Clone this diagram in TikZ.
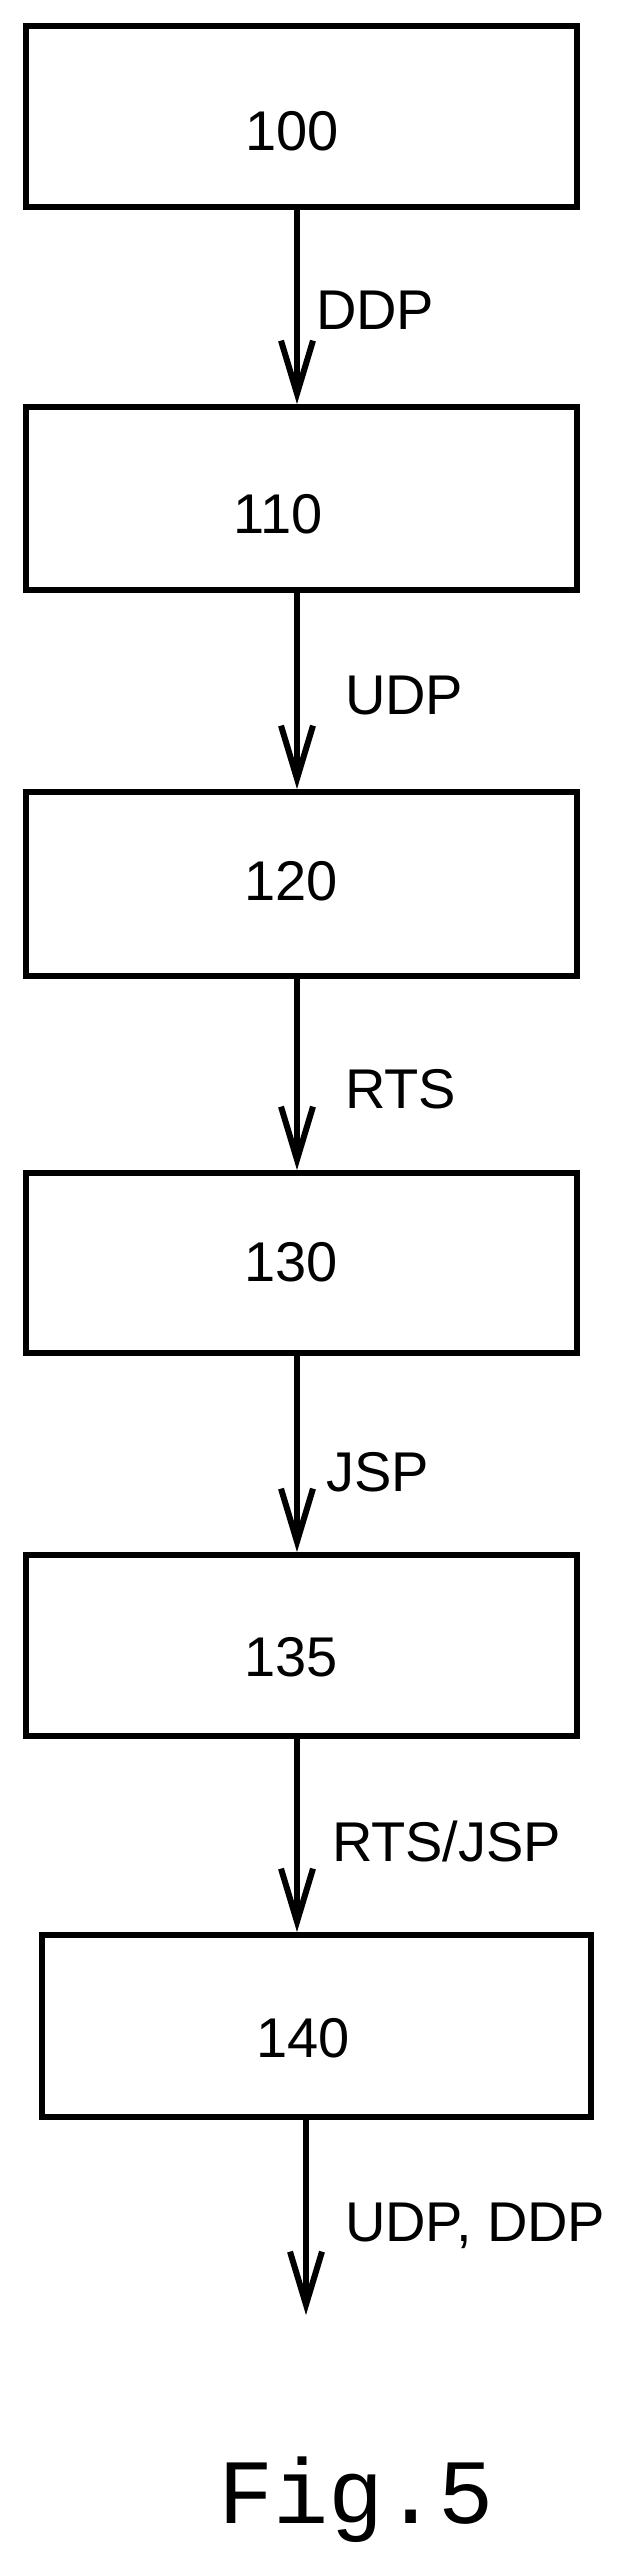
\documentclass[tikz,border=0pt]{standalone}
\usepackage{fontspec}
\setmainfont{Liberation Sans}
\newfontfamily\figfont{Liberation Mono}
\usetikzlibrary{arrows.meta}

\begin{document}
\begin{tikzpicture}[x=1pt, y=-1pt, line width=6pt,
		box_style/.style={draw=black, line join=miter, inner sep=0pt, anchor=north west},
		text_style/.style={font=\fontsize{56}{64}\selectfont, inner sep=0pt, anchor=base},
		label_style/.style={font=\fontsize{56}{64}\selectfont, inner sep=0pt, anchor=base west},
		edge_style/.style={draw=black, -{Straight Barb[length=53pt, width=32pt, line width=6pt]}}]

		\useasboundingbox (0,0) rectangle (626,2561);

		\node[box_style, minimum width=551pt, minimum height=181pt] (b100) at (23,23) {};
		\node[box_style, minimum width=551pt, minimum height=183pt] (b110) at (23,404) {};
		\node[box_style, minimum width=551pt, minimum height=184pt] (b120) at (23,789) {};
		\node[box_style, minimum width=551pt, minimum height=180pt] (b130) at (23,1170) {};
		\node[box_style, minimum width=551pt, minimum height=181pt] (b135) at (23,1552) {};
		\node[box_style, minimum width=549pt, minimum height=182pt] (b140) at (39,1932) {};

		\node[text_style] (t100) at (292,150) {100};
		\node[text_style] (t110) at (278,533) {110};
		\node[text_style] (t120) at (291,900) {120};
		\node[text_style] (t130) at (291,1281) {130};
		\node[text_style] (t135) at (291,1676) {135};
		\node[text_style] (t140) at (303,2057) {140};

		\coordinate (end) at (306,2315);

		\draw[edge_style] (b100.south -| 297,0) -- (b110.north -| 297,0);
		\draw[edge_style] (b110.south -| 297,0) -- (b120.north -| 297,0);
		\draw[edge_style] (b120.south -| 297,0) -- (b130.north -| 297,0);
		\draw[edge_style] (b130.south -| 297,0) -- (b135.north -| 297,0);
		\draw[edge_style] (b135.south -| 297,0) -- (b140.north -| 297,0);
		\draw[edge_style] (b140.south -| end) -- (end);

		\node[label_style] (l1) at (313,329) {DDP};
		\node[label_style] (l2) at (342,714) {UDP};
		\node[label_style] (l3) at (342,1108) {RTS};
		\node[label_style] (l4) at (323,1491) {JSP};
		\node[label_style] (l5) at (329,1861) {RTS/JSP};
		\node[label_style] (l6) at (342,2241) {UDP, DDP};

		\node[inner sep=0pt, anchor=base west, font=\figfont\fontsize{92}{100}\selectfont] (fig) at (215,2523) {Fig.5};
\end{tikzpicture}
\end{document}
